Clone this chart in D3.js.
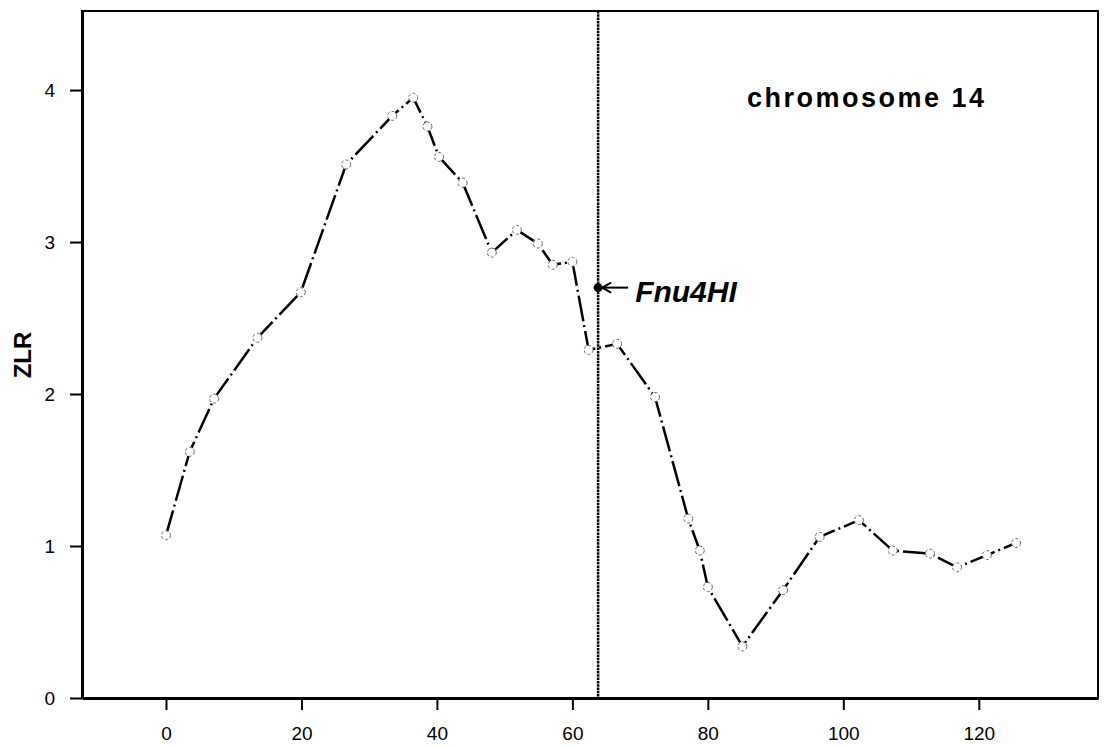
<!DOCTYPE html>
<html>
<head>
<meta charset="utf-8">
<script src="https://cdn.jsdelivr.net/npm/d3@7"></script>
<style>
	body { margin: 0; background: #fff; }
	svg { display: block; font-family: "Liberation Sans", Arial, sans-serif; }
</style>
</head>
<body>
<svg id="chart" width="1112" height="747"></svg>
<script>
// marker positions (cM) and ZLR scores
const positions = [0, 3.5, 7.1, 13.5, 19.9, 26.6, 33.4, 36.5, 38.6, 40.3, 43.8, 48.1, 51.8, 54.9, 57.1, 60.0,
	62.4, 66.6, 72.2, 77.1, 78.8, 80.0, 85.1, 91.1, 96.5, 102.3, 107.3, 112.8, 116.8, 121.2, 125.5];
const zlrValues = [1.07, 1.62, 1.97, 2.37, 2.67, 3.51, 3.83, 3.95, 3.76, 3.56, 3.39, 2.93, 3.08, 2.99, 2.85, 2.87,
	2.29, 2.33, 1.98, 1.18, 0.97, 0.73, 0.34, 0.71, 1.06, 1.17, 0.97, 0.95, 0.86, 0.94, 1.02];

const xTicks = [0, 20, 40, 60, 80, 100, 120];
const yTicks = [0, 1, 2, 3, 4];

// the Fnu4HI marker
const markerName = ["Fnu4HI"];
const markerPos = [63.8];
const markerZlr = [2.70];

const svg = d3.select("#chart");
const plotLeft = 82, plotRight = 1098, plotTop = 11, plotBottom = 698;

const x = d3.scaleLinear().domain([-12.4, 137.6]).range([plotLeft, plotRight]);
const y = d3.scaleLinear().domain([0, 4.52]).range([plotBottom, plotTop]);

// frame (top and right)
svg.append("rect")
	.attr("x", plotLeft).attr("y", plotTop)
	.attr("width", plotRight - plotLeft).attr("height", plotBottom - plotTop)
	.attr("fill", "none").attr("stroke", "#000").attr("stroke-width", 2);

const styleAxis = g => {
	g.select(".domain").attr("stroke", "#000").attr("stroke-width", 3);
	g.selectAll(".tick line").attr("stroke", "#000").attr("stroke-width", 2);
	g.selectAll(".tick text")
		.attr("fill", "#000")
		.attr("font-size", 19)
		.attr("font-family", "Liberation Sans, Arial, sans-serif");
};

// axes
svg.append("g")
	.attr("transform", `translate(0,${plotBottom})`)
	.call(d3.axisBottom(x).tickValues(xTicks).tickFormat(d3.format("d"))
		.tickSize(12).tickPadding(17).tickSizeOuter(0))
	.call(styleAxis);

svg.append("g")
	.attr("transform", `translate(${plotLeft},0)`)
	.call(d3.axisLeft(y).tickValues(yTicks).tickFormat(d3.format("d"))
		.tickSize(12).tickPadding(15).tickSizeOuter(0))
	.call(styleAxis);

// y label
svg.append("text")
	.attr("transform", `translate(31,355) rotate(-90)`)
	.attr("text-anchor", "middle")
	.attr("font-size", 24)
	.attr("font-weight", "bold")
	.text("ZLR");

// vertical marker line
svg.append("line")
	.attr("x1", x(markerPos[0])).attr("x2", x(markerPos[0]))
	.attr("y1", plotTop).attr("y2", plotBottom)
	.attr("stroke", "#000").attr("stroke-width", 2.5)
	.attr("stroke-dasharray", "2.5,0.8");

// ZLR curve
const line = d3.line()
	.x((d, i) => x(positions[i]))
	.y(d => y(d));

svg.append("path")
	.datum(zlrValues)
	.attr("d", line)
	.attr("fill", "none")
	.attr("stroke", "#000")
	.attr("stroke-width", 2.5)
	.attr("stroke-dasharray", "26,4,2,4");

svg.selectAll("circle.pt")
	.data(zlrValues)
	.enter()
	.append("circle")
	.attr("class", "pt")
	.attr("cx", (d, i) => x(positions[i]))
	.attr("cy", d => y(d))
	.attr("r", 4.5)
	.attr("fill", "#fff")
	.attr("stroke", "#666")
	.attr("stroke-width", 1)
	.attr("stroke-dasharray", "3,2");

// marker dot, arrow and name
const mx = x(markerPos[0]), my = y(markerZlr[0]);
svg.append("circle")
	.attr("cx", mx).attr("cy", my).attr("r", 4.5)
	.attr("fill", "#000");

svg.append("line")
	.attr("x1", mx + 5).attr("x2", mx + 30)
	.attr("y1", my).attr("y2", my)
	.attr("stroke", "#000").attr("stroke-width", 2);
svg.append("path")
	.attr("d", `M${mx + 4},${my} l9,-5 M${mx + 4},${my} l9,5`)
	.attr("stroke", "#000").attr("stroke-width", 2).attr("fill", "none");

svg.append("text")
	.attr("x", mx + 37).attr("y", my + 14)
	.attr("font-size", 30)
	.attr("font-weight", "bold")
	.attr("font-style", "italic")
	.text(markerName[0]);

// title
svg.append("text")
	.attr("x", 747).attr("y", 107)
	.attr("font-size", 27)
	.attr("font-weight", "bold")
	.attr("letter-spacing", 2.5)
	.text("chromosome 14");
</script>
</body>
</html>
